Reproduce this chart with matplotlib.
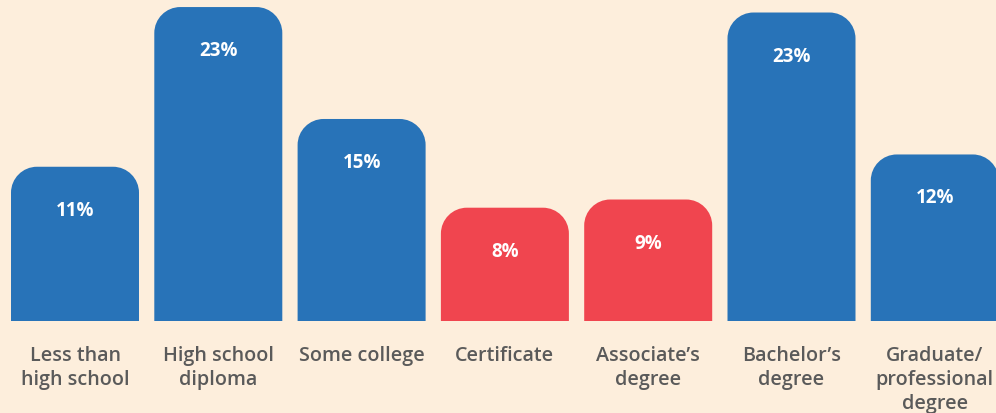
import numpy as np
import matplotlib.pyplot as plt
from matplotlib.path import Path
from matplotlib.patches import PathPatch

# Data
categories = ["Less than\nhigh school", "High school\ndiploma", "Some college",
              "Certificate", "Associate\u2019s\ndegree", "Bachelor\u2019s\ndegree",
              "Graduate/\nprofessional\ndegree"]
values = [11.3, 23.0, 14.8, 8.3, 8.9, 22.6, 12.2]
labels = ["11%", "23%", "15%", "8%", "9%", "23%", "12%"]
highlight = [False, False, False, True, True, False, False]

BG = "#FDEEDC"
BLUE = "#2873B8"
RED = "#F0454F"
GRAY = "#5A5A5A"

W, H, DPI = 996, 413, 100
fig = plt.figure(figsize=(W / DPI, H / DPI), dpi=DPI, facecolor=BG)
ax = fig.add_axes([0, 92 / H, 1, 321 / H])
ax.set_facecolor(BG)

pitch_px = 143.3
x = np.arange(len(values))
x_left = -75 / pitch_px
ax.set_xlim(x_left, x_left + W / pitch_px)
ax.set_ylim(0, 321 / 13.65)

colors = [RED if h else BLUE for h in highlight]
bars = ax.bar(x, values, width=128 / pitch_px, color=colors)


def rounded_top(rect, r_px=26):
    # replace plain rectangle with one whose top corners are rounded
    x0, y0 = rect.get_x(), rect.get_y()
    w, h = rect.get_width(), rect.get_height()
    rx = r_px / pitch_px
    ry = r_px / 13.65
    k = 0.5523
    verts = [
        (x0, y0), (x0, y0 + h - ry),
        (x0, y0 + h - ry + k * ry), (x0 + rx - k * rx, y0 + h), (x0 + rx, y0 + h),
        (x0 + w - rx, y0 + h),
        (x0 + w - rx + k * rx, y0 + h), (x0 + w, y0 + h - ry + k * ry), (x0 + w, y0 + h - ry),
        (x0 + w, y0), (x0, y0),
    ]
    codes = [Path.MOVETO, Path.LINETO,
             Path.CURVE4, Path.CURVE4, Path.CURVE4,
             Path.LINETO,
             Path.CURVE4, Path.CURVE4, Path.CURVE4,
             Path.LINETO, Path.CLOSEPOLY]
    return PathPatch(Path(verts, codes), facecolor=rect.get_facecolor(),
                     edgecolor="none", clip_on=False)


for rect in bars:
    ax.add_patch(rounded_top(rect))
    rect.set_visible(False)

for xi, v, lab in zip(x, values, labels):
    ax.annotate(lab, (xi, v), xytext=(0, -44 * 72 / DPI), textcoords="offset points",
                ha="center", va="center", color="white", fontsize=13.5,
                fontweight="bold", family="Open Sans")

ax.set_xticks(x)
ax.set_xticklabels(categories, fontsize=14.2, fontweight="semibold", color=GRAY,
                   family="Open Sans", linespacing=1.27)
ax.tick_params(axis="x", length=0, pad=18)
ax.set_yticks([])
for s in ax.spines.values():
    s.set_visible(False)

fig.savefig("out.png", dpi=DPI, facecolor=BG)
